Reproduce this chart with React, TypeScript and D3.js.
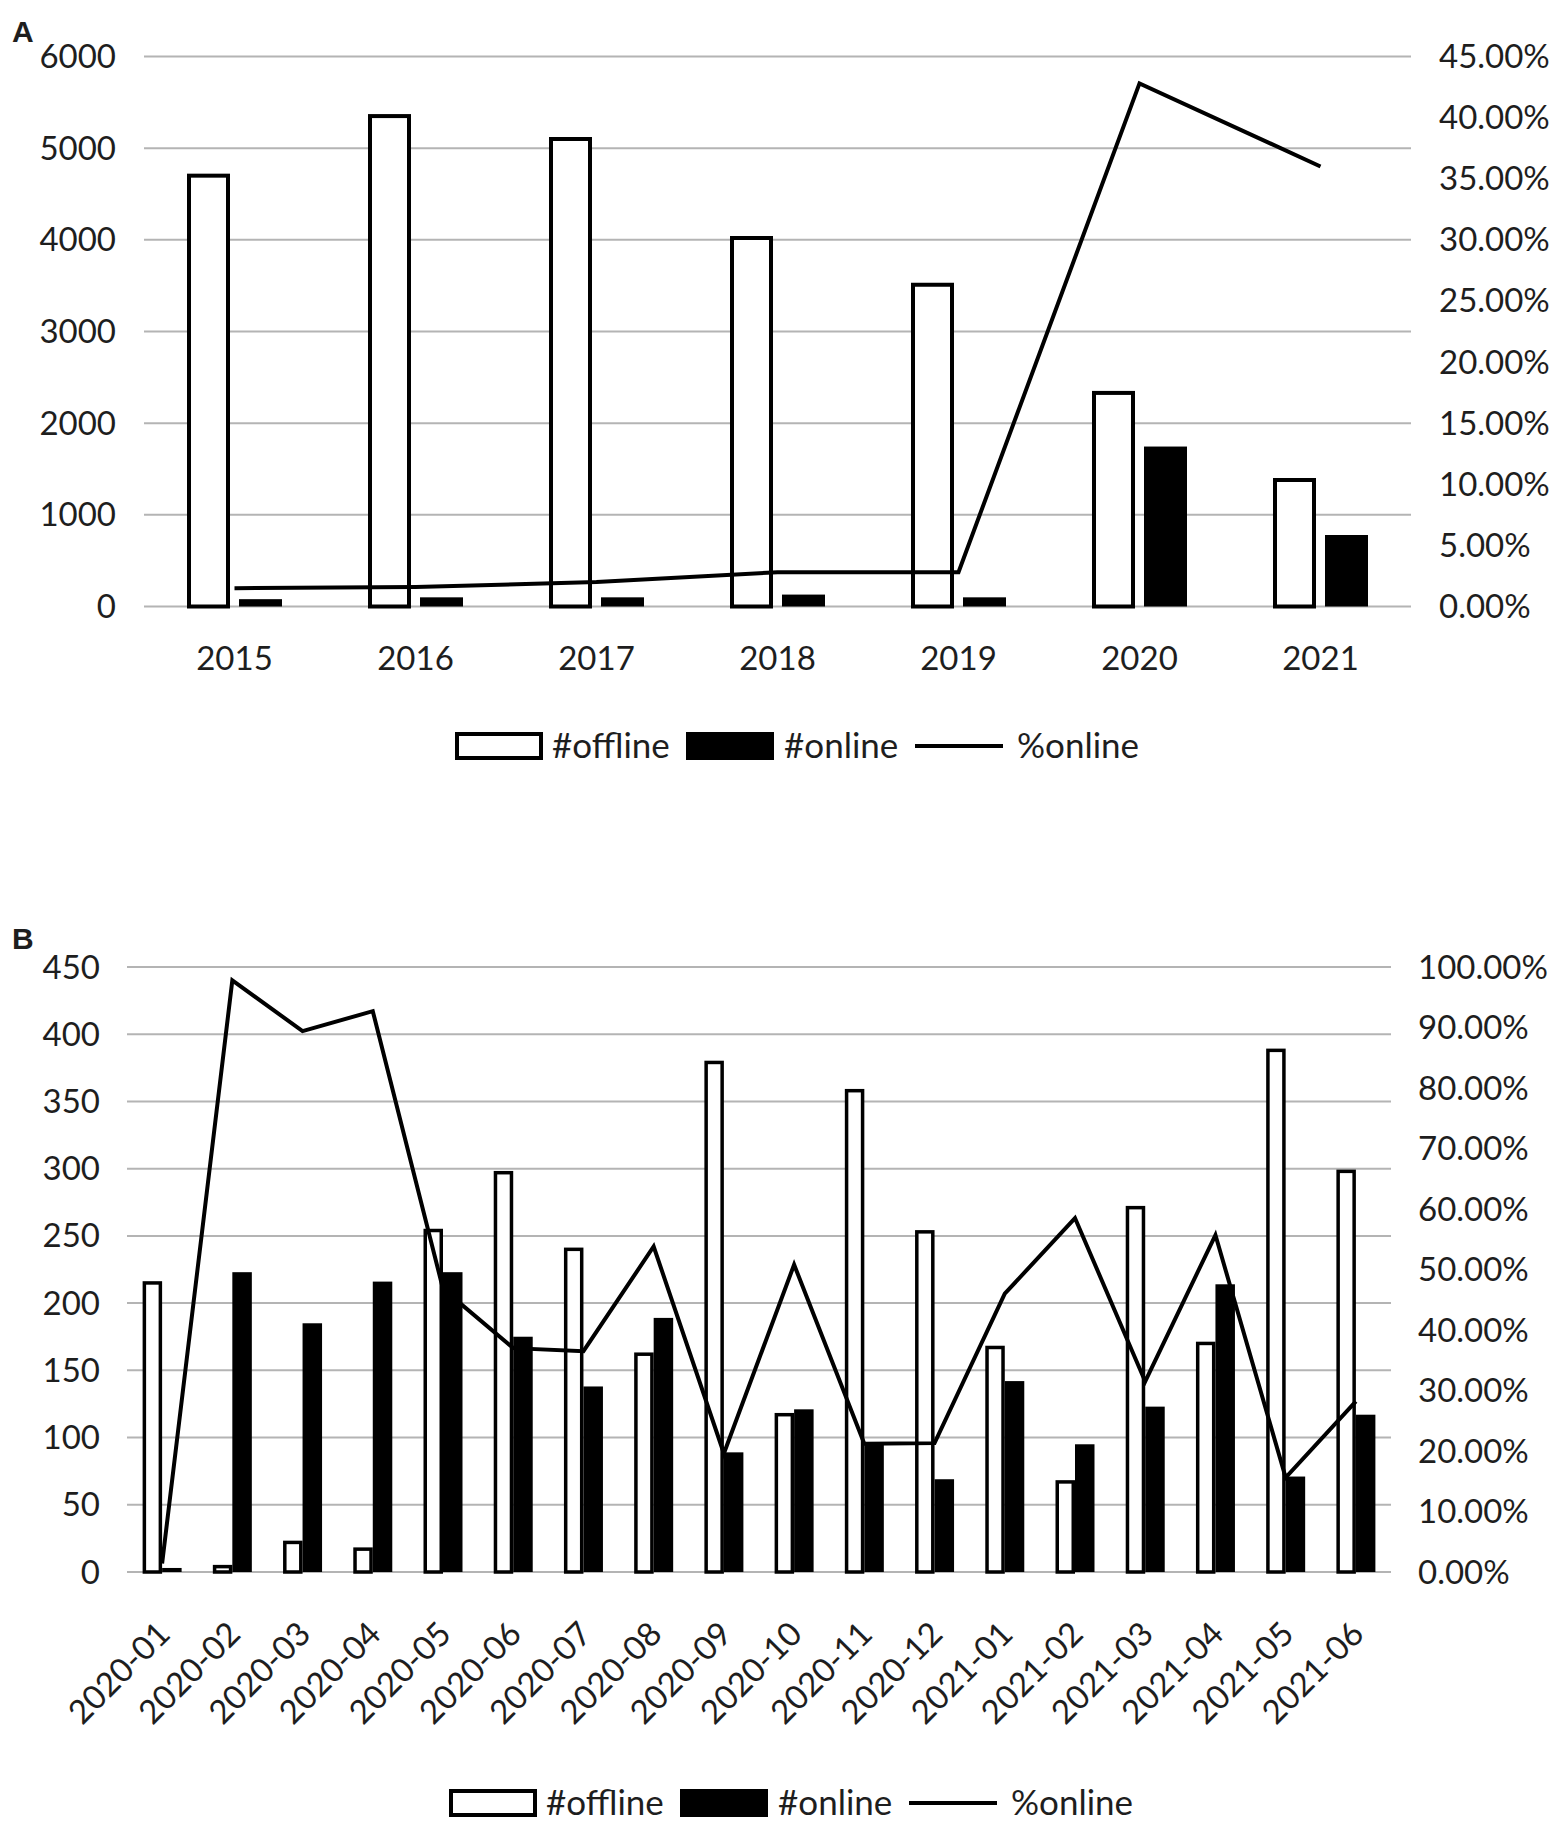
import React from "react";
import * as d3 from "d3";

// Panel A: yearly counts
const YEARS = ["2015", "2016", "2017", "2018", "2019", "2020", "2021"];
const OFFLINE_A = [4700, 5350, 5100, 4020, 3510, 2330, 1380];
const ONLINE_A = [80, 100, 100, 130, 100, 1745, 780];
const PCT_A = [1.5, 1.6, 2.0, 2.8, 2.8, 42.8, 36.0];
const LEFT_TICKS_A = [0, 1000, 2000, 3000, 4000, 5000, 6000];
const RIGHT_TICKS_A = [0, 5, 10, 15, 20, 25, 30, 35, 40, 45];

// Panel B: monthly counts
const MONTHS = [
  "2020-01", "2020-02", "2020-03", "2020-04", "2020-05", "2020-06",
  "2020-07", "2020-08", "2020-09", "2020-10", "2020-11", "2020-12",
  "2021-01", "2021-02", "2021-03", "2021-04", "2021-05", "2021-06",
];
const OFFLINE_B = [215, 4, 22, 17, 254, 297, 240, 162, 379, 117, 358, 253, 167, 67, 271, 170, 388, 298];
const ONLINE_B = [3, 223, 185, 216, 223, 175, 138, 189, 89, 121, 95, 69, 142, 95, 123, 214, 71, 117];
const PCT_B = [1.4, 97.8, 89.4, 92.7, 46.8, 37.0, 36.5, 53.8, 19.6, 50.8, 21.2, 21.3, 46.0, 58.5, 31.5, 55.7, 15.6, 28.2];
const LEFT_TICKS_B = [0, 50, 100, 150, 200, 250, 300, 350, 400, 450];
const RIGHT_TICKS_B = [0, 10, 20, 30, 40, 50, 60, 70, 80, 90, 100];

const LEGEND = ["#offline", "#online", "%online"];

const W = 1562;
const H = 1825;
const FONT = "Lato, 'Open Sans', sans-serif";
const TEXT = "#1e1e1e";
const GRID = "#b4b4b4";
const FS = 33;
const LEGEND_FS = 35;

interface PanelProps {
  letter: string;
  letterY: number;
  cats: string[];
  offline: number[];
  online: number[];
  pct: number[];
  leftTicks: number[];
  rightTicks: number[];
  frame: { left: number; right: number; top: number; bottom: number };
  barW: number;
  barGap: number;
  outline: number;
  lineW: number;
  leftLabelX: number;
  rightLabelX: number;
  rotate: boolean;
  xLabelY: number;
  legendX: number;
  legendY: number;
}

const pctFmt = (v: number) => `${d3.format(".2f")(v)}%`;

const Panel: React.FC<PanelProps> = (p) => {
  const { left, right, top, bottom } = p.frame;
  const x = d3.scaleBand<string>().domain(p.cats).range([left, right]);
  const yL = d3.scaleLinear().domain([0, d3.max(p.leftTicks) ?? 1]).range([bottom, top]);
  const yR = d3.scaleLinear().domain([0, d3.max(p.rightTicks) ?? 1]).range([bottom, top]);
  const cx = (c: string) => (x(c) ?? 0) + x.bandwidth() / 2;

  const lineFn = d3
    .line<number>()
    .x((_, i) => cx(p.cats[i]))
    .y((v) => yR(v));

  const half = p.barGap / 2;
  const o = p.outline;

  // legend layout: swatch, label, swatch, label, line, label
  const sw = 88;
  const legendTextW = [124, 120];
  const lx0 = p.legendX;
  const lt0 = lx0 + sw + 9;
  const lx1 = lt0 + legendTextW[0] + 10;
  const lt1 = lx1 + sw + 10;
  const lx2 = lt1 + legendTextW[1] + 11;
  const lt2 = lx2 + sw + 14;

  return (
    <g fontFamily={FONT} fill={TEXT}>
      <text x={12} y={p.letterY} fontFamily="'Liberation Sans', Arial, sans-serif" fontWeight="bold" fontSize={30}>
        {p.letter}
      </text>

      {/* gridlines + left axis labels */}
      {p.leftTicks.map((t) => (
        <g key={`l${t}`}>
          <line x1={left} x2={right} y1={yL(t)} y2={yL(t)} stroke={GRID} strokeWidth={2} />
          <text x={p.leftLabelX} y={yL(t)} dy="0.35em" textAnchor="end" fontSize={FS}>
            {t}
          </text>
        </g>
      ))}

      {/* right axis labels */}
      {p.rightTicks.map((t) => (
        <text key={`r${t}`} x={p.rightLabelX} y={yR(t)} dy="0.35em" fontSize={FS}>
          {pctFmt(t)}
        </text>
      ))}

      {/* bars */}
      {p.cats.map((c, i) => (
        <g key={c}>
          <rect
            x={cx(c) - half - p.barW + o / 2}
            y={yL(p.offline[i])}
            width={p.barW - o}
            height={bottom - yL(p.offline[i])}
            fill="#fff"
            stroke="#000"
            strokeWidth={o}
          />
          <rect
            x={cx(c) + half}
            y={yL(p.online[i])}
            width={p.barW}
            height={bottom - yL(p.online[i])}
            fill="#000"
          />
        </g>
      ))}

      {/* %online line */}
      <path d={lineFn(p.pct) ?? ""} fill="none" stroke="#000" strokeWidth={p.lineW} strokeLinejoin="miter" />

      {/* category labels */}
      {p.cats.map((c) =>
        p.rotate ? (
          <text
            key={`x${c}`}
            transform={`translate(${cx(c) + 10},${p.xLabelY}) rotate(-45)`}
            textAnchor="end"
            fontSize={FS}
          >
            {c}
          </text>
        ) : (
          <text key={`x${c}`} x={cx(c)} y={p.xLabelY} textAnchor="middle" fontSize={FS}>
            {c}
          </text>
        )
      )}

      {/* legend */}
      <rect x={lx0 + 2} y={p.legendY - 12} width={sw - 4} height={24} fill="#fff" stroke="#000" strokeWidth={4} />
      <text x={lt0} y={p.legendY} dy="0.35em" fontSize={LEGEND_FS}>{LEGEND[0]}</text>
      <rect x={lx1} y={p.legendY - 14} width={sw} height={28} fill="#000" />
      <text x={lt1} y={p.legendY} dy="0.35em" fontSize={LEGEND_FS}>{LEGEND[1]}</text>
      <line x1={lx2} x2={lx2 + sw} y1={p.legendY} y2={p.legendY} stroke="#000" strokeWidth={4} />
      <text x={lt2} y={p.legendY} dy="0.35em" fontSize={LEGEND_FS}>{LEGEND[2]}</text>
    </g>
  );
};

export default function App() {
  return (
    <svg
      width={W}
      height={H}
      viewBox={`0 0 ${W} ${H}`}
      style={{ position: "absolute", left: 0, top: 0, background: "#fff" }}
    >
      <rect width={W} height={H} fill="#fff" />
      <Panel
        letter="A"
        letterY={42}
        cats={YEARS}
        offline={OFFLINE_A}
        online={ONLINE_A}
        pct={PCT_A}
        leftTicks={LEFT_TICKS_A}
        rightTicks={RIGHT_TICKS_A}
        frame={{ left: 144, right: 1411, top: 56.5, bottom: 606.5 }}
        barW={43}
        barGap={9}
        outline={4}
        lineW={4}
        leftLabelX={116}
        rightLabelX={1439}
        rotate={false}
        xLabelY={670}
        legendX={455}
        legendY={746}
      />
      <Panel
        letter="B"
        letterY={949}
        cats={MONTHS}
        offline={OFFLINE_B}
        online={ONLINE_B}
        pct={PCT_B}
        leftTicks={LEFT_TICKS_B}
        rightTicks={RIGHT_TICKS_B}
        frame={{ left: 127, right: 1391, top: 967, bottom: 1572 }}
        barW={19.5}
        barGap={0}
        outline={3.5}
        lineW={4}
        leftLabelX={100}
        rightLabelX={1418}
        rotate={true}
        xLabelY={1636}
        legendX={449}
        legendY={1803}
      />
    </svg>
  );
}
